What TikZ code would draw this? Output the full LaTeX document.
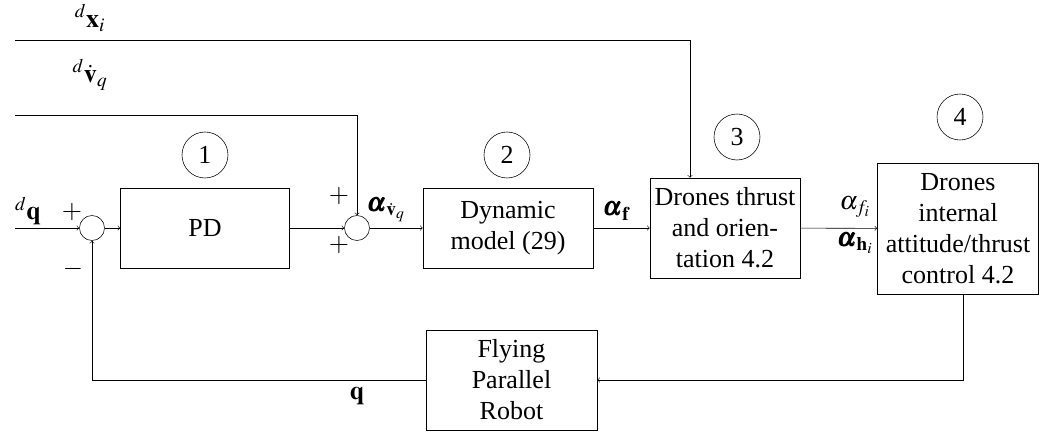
\documentclass[tikz,border=0pt]{standalone}
\usepackage{amsmath}
\usepackage{mathptmx}
\usepackage{bm}
\usepackage{fontspec}
\setmainfont{Liberation Serif}
\begin{document}
\begin{tikzpicture}[
    x=0.025cm, y=-0.025cm,
    font=\fontsize{18.5}{22}\selectfont,
    block/.style={rectangle, draw, align=center, inner sep=2pt},
    sumnode/.style={circle, draw, minimum size=25*0.025cm, inner sep=0pt},
    num/.style={circle, draw, minimum size=46*0.025cm, inner sep=0pt},
    lab/.style={inner sep=0pt},
    arrow/.style={->, thin}
]
    \useasboundingbox (0,0) rectangle (1040,434);

    % Summing junctions
    \node[sumnode] (sum1) at (92, 228) {};
    \node[sumnode] (sum2) at (357, 228) {};

    % Blocks
    \node[block, minimum width=169*0.025cm, minimum height=80*0.025cm] (pd) at (205, 228) {PD};
    \node[block, minimum width=170*0.025cm, minimum height=80*0.025cm] (dyn) at (508, 228) {Dynamic\\model (29)};
    \node[block, minimum width=150*0.025cm, minimum height=100*0.025cm] (thrust) at (725, 228) {Drones thrust\\and orien-\\tation 4.2};
    \node[block, minimum width=161*0.025cm, minimum height=131*0.025cm] (att) at (958, 228.5) {Drones\\internal\\attitude/thrust\\control 4.2};
    \node[block, minimum width=171*0.025cm, minimum height=100*0.025cm] (robot) at (511.5, 380) {Flying\\Parallel\\Robot};

    % Step numbers
    \node[num] (c1) at (205, 155) {1};
    \node[num] (c2) at (507, 155) {2};
    \node[num] (c3) at (737, 137) {3};
    \node[num] (c4) at (960, 117) {4};

    % Inputs
    \coordinate (xin) at (15, 40);
    \coordinate (vin) at (15, 115);
    \coordinate (qin) at (15, 228);
    \node[lab] (xlab) at (90, 18) {${}^{d}\mathbf{x}_i$};
    \node[lab] (vlab) at (90, 75) {${}^{d}\dot{\mathbf{v}}_q$};
    \node[lab] (qlab) at (28, 211) {${}^{d}\mathbf{q}$};
    \draw[arrow] (xin) -| (thrust.north -| 690, 0);
    \draw[arrow] (vin) -| (sum2.north);
    \draw[arrow] (qin) -- (sum1.west);

    % Forward path
    \draw[arrow] (sum1) -- (pd);
    \draw[arrow] (pd) -- (sum2);
    \draw[arrow] (sum2) -- (dyn);
    \draw[arrow] (dyn) -- (thrust);
    \draw[arrow] (thrust) -- (att);
    \node[lab] (avq) at (386, 210) {$\bm{\alpha}_{\dot{\mathbf{v}}_q}$};
    \node[lab] (af) at (616, 211) {$\bm{\alpha}_{\mathbf{f}}$};
    \node[lab] (afi) at (855, 207) {$\alpha_{f_i}$};
    \node[lab] (ahi) at (855, 243) {$\bm{\alpha}_{\mathbf{h}_i}$};

    % Signs
    \node[lab] (p1) at (72, 212) {$+$};
    \node[lab] (m1) at (73, 269) {$-$};
    \node[lab] (p2) at (339, 196) {$+$};
    \node[lab] (p3) at (339, 245) {$+$};

    % Feedback
    \draw[arrow] (att.south -| 963, 0) |- (robot.east);
    \draw[arrow] (robot.west) -| (sum1.south);
    \node[lab] (qout) at (357, 396) {$\mathbf{q}$};
\end{tikzpicture}
\end{document}
